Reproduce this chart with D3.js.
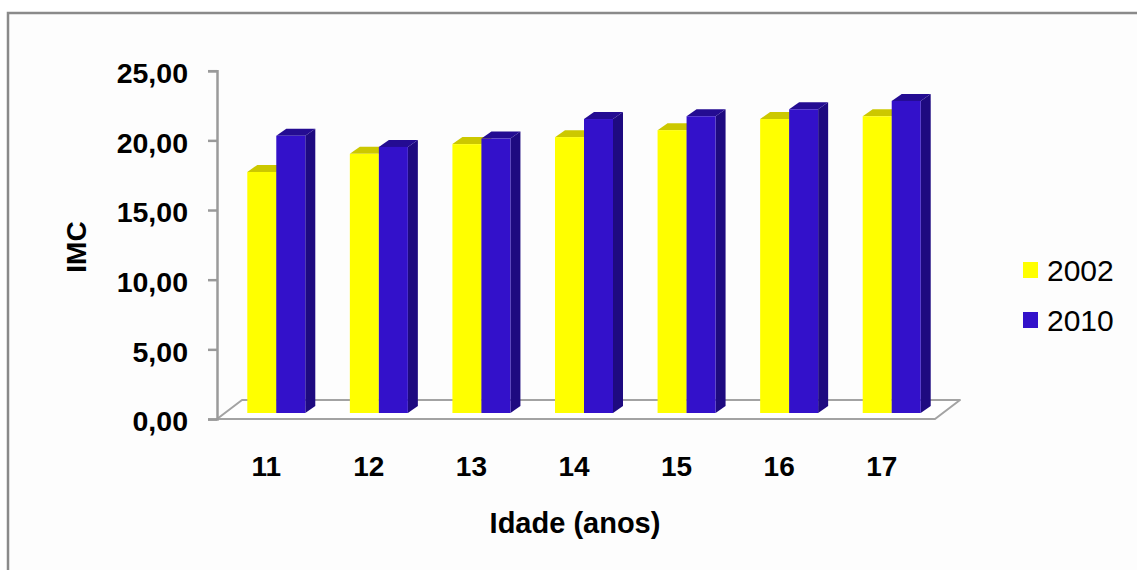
<!DOCTYPE html>
<html>
<head>
<meta charset="utf-8">
<script src="https://cdn.jsdelivr.net/npm/d3@7"></script>
<style>
  html, body { margin: 0; padding: 0; background: #ffffff; }
  svg { display: block; }
  text { font-family: "Liberation Sans", Arial, sans-serif; fill: #000; }
</style>
</head>
<body>
<svg id="chart" width="1137" height="570"></svg>
<script>
// IMC médio por idade, 2002 vs 2010
const ages = ["11", "12", "13", "14", "15", "16", "17"];
const seriesNames = ["2002", "2010"];
const imc2002 = [17.3, 18.6, 19.3, 19.8, 20.3, 21.1, 21.3];
const imc2010 = [19.9, 19.1, 19.7, 21.1, 21.3, 21.8, 22.4];
const yTicks = [0, 5, 10, 15, 20, 25];
const yLabel = "IMC";
const xLabel = "Idade (anos)";

const seriesValues = [imc2002, imc2010];
const faceColors = ["#FFFF00", "#3311CA"];
const topColors = ["#CCC800", "#240C92"];
const sideColors = ["#C8C400", "#1E0A80"];

const svg = d3.select("#chart");

// outer frame (extends past the right and bottom edges)
svg.append("rect")
  .attr("x", 8).attr("y", 13)
  .attr("width", 1160).attr("height", 600)
  .attr("fill", "#fdfdfd")
  .attr("stroke", "#8a8a8a")
  .attr("stroke-width", 2.5);

// plot geometry
const floorLeft = 217, floorRight = 935;
const floorY = 419;
const floorDepth = { dx: 25, dy: -19 };   // back edge of the floor
const barShift = { dx: 8, dy: -6 };       // bars stand part-way into the floor
const barDepth = { dx: 10, dy: -7 };      // thickness of each bar

const y = d3.scaleLinear().domain([0, 25]).range([floorY, 70.7]);

const x = d3.scaleBand()
  .domain(ages)
  .range([floorLeft, floorRight])
  .paddingInner(0.4345)
  .paddingOuter(0.4345 / 2);

const xs = d3.scaleBand().domain(seriesNames).range([0, x.bandwidth()]);

// floor
const fl = [
  [floorLeft, floorY],
  [floorRight, floorY],
  [floorRight + floorDepth.dx, floorY + floorDepth.dy],
  [floorLeft + floorDepth.dx, floorY + floorDepth.dy]
];
svg.append("path")
  .attr("d", d3.line()(fl) + "Z")
  .attr("fill", "#ffffff")
  .attr("stroke", "#a3a3a3")
  .attr("stroke-width", 2)
  .attr("stroke-linejoin", "round");

// y axis
const yAxis = d3.axisLeft(y)
  .tickValues(yTicks)
  .tickSize(9)
  .tickPadding(20)
  .tickFormat(d => d3.format(".2f")(d).replace(".", ","));

const gy = svg.append("g")
  .attr("transform", `translate(${floorLeft},0)`)
  .call(yAxis);
gy.select(".domain").attr("stroke", "#9a9a9a").attr("stroke-width", 2.5);
gy.selectAll(".tick line").attr("stroke", "#9a9a9a").attr("stroke-width", 2.5);
gy.selectAll(".tick text")
  .attr("font-size", 28.5)
  .attr("font-weight", "bold")
  .attr("dy", "0.38em")
  .attr("y", 1)
  .style("font-family", "'Liberation Sans', Arial, sans-serif")
  .attr("fill", "#000");

// bars
const bars = [];
ages.forEach((a, i) => {
  seriesNames.forEach((s, j) => {
    bars.push({ age: a, series: s, j: j, value: seriesValues[j][i] });
  });
});

const gBars = svg.append("g");
bars.forEach(b => {
  const x0 = x(b.age) + xs(b.series) + barShift.dx;
  const w = xs.bandwidth();
  const yb = y(0) + barShift.dy;
  const yt = y(b.value) + barShift.dy;
  const g = gBars.append("g");
  // right side
  g.append("path")
    .attr("d", d3.line()([
      [x0 + w, yt], [x0 + w + barDepth.dx, yt + barDepth.dy],
      [x0 + w + barDepth.dx, yb + barDepth.dy], [x0 + w, yb]
    ]) + "Z")
    .attr("fill", sideColors[b.j]);
  // top
  g.append("path")
    .attr("d", d3.line()([
      [x0, yt], [x0 + w, yt],
      [x0 + w + barDepth.dx, yt + barDepth.dy], [x0 + barDepth.dx, yt + barDepth.dy]
    ]) + "Z")
    .attr("fill", topColors[b.j]);
  // front
  g.append("rect")
    .attr("x", x0).attr("y", yt)
    .attr("width", w).attr("height", yb - yt)
    .attr("fill", faceColors[b.j]);
});

// category labels
svg.append("g").selectAll("text")
  .data(ages)
  .join("text")
  .attr("x", d => x(d) + x.bandwidth() / 2 - 2)
  .attr("y", 476)
  .attr("text-anchor", "middle")
  .attr("font-size", 28)
  .attr("font-weight", "bold")
  .text(d => d);

// axis titles
svg.append("text")
  .attr("transform", "translate(86,247) rotate(-90)")
  .attr("text-anchor", "middle")
  .attr("font-size", 28)
  .attr("font-weight", "bold")
  .text(yLabel);

svg.append("text")
  .attr("x", 575)
  .attr("y", 533)
  .attr("text-anchor", "middle")
  .attr("font-size", 29)
  .attr("font-weight", "bold")
  .text(xLabel);

// legend
const legend = svg.append("g").selectAll("g")
  .data(seriesNames)
  .join("g")
  .attr("transform", (d, i) => `translate(1023,${262 + i * 50})`);
legend.append("rect")
  .attr("width", 15).attr("height", 16)
  .attr("fill", (d, i) => faceColors[i]);
legend.append("text")
  .attr("x", 24).attr("y", 18.5)
  .attr("font-size", 30)
  .text(d => d);
</script>
</body>
</html>
